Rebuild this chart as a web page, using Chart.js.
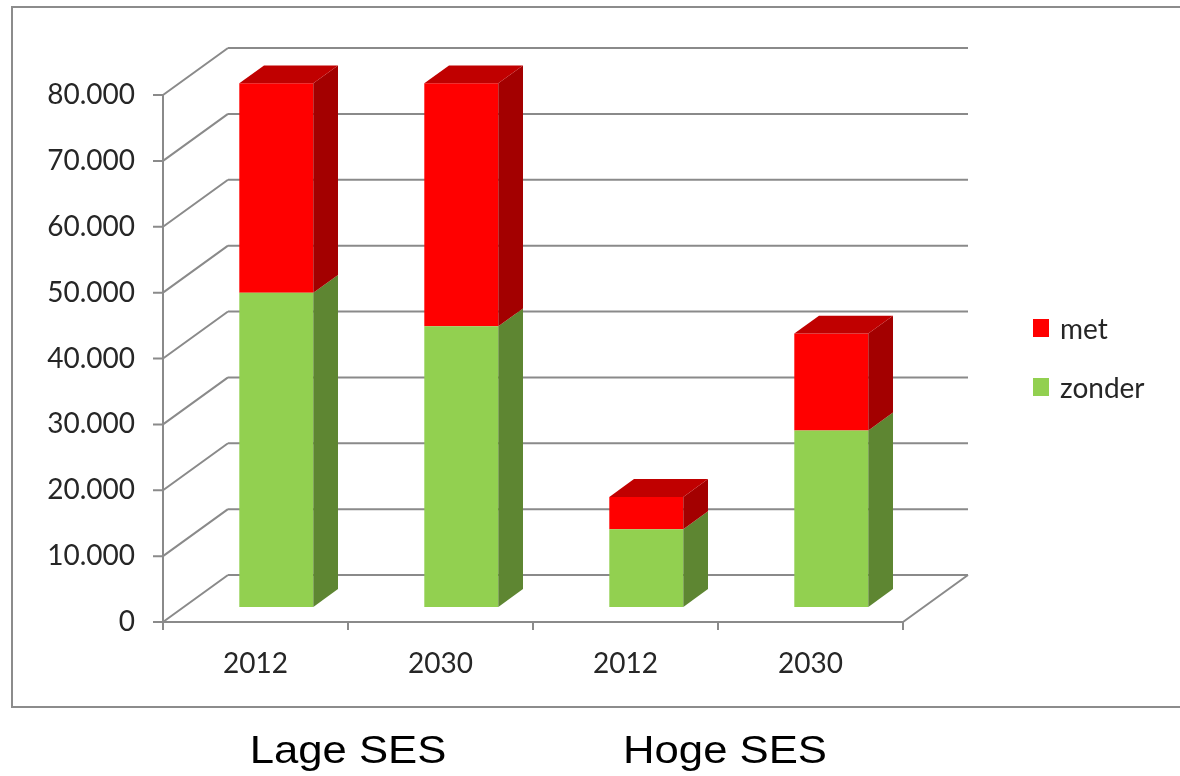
<!DOCTYPE html>
<html>
<head>
<meta charset="utf-8">
<script src="https://cdn.jsdelivr.net/npm/chart.js@4"></script>
<style>
  html, body { margin:0; padding:0; background:#fff; }
  body { width:1180px; height:776px; position:relative; overflow:hidden; }
  #frame { position:absolute; left:11px; top:6px; width:1200px; height:702px; border:2px solid #8c8c8c; box-sizing:border-box; }
  #c { position:absolute; left:0; top:0; }
  .grp { position:absolute; top:730px; font-family:"Liberation Sans", Arial, sans-serif; font-size:39px; line-height:39px; color:#000; white-space:nowrap; transform:translateX(-50%) scaleX(1.12); transform-origin:center; }
  #legend { position:absolute; left:1033px; top:312px; font-family:Lato, sans-serif; font-size:28px; color:#262626; }
  .li { position:absolute; left:0; white-space:nowrap; height:34px; }
  .sw { position:absolute; left:0; top:7px; width:16px; height:18px; }
  .lt { position:absolute; left:27px; top:0; line-height:32px; }
</style>
</head>
<body>
<div id="frame"></div>
<canvas id="c" width="1180" height="776"></canvas>
<div id="legend"></div>
<div id="groups"></div>
<script>
// ---- data ----
const categories = ['2012', '2030', '2012', '2030'];
const groupLabels = ['Lage SES', 'Hoge SES'];
const zonder = [47700, 42600, 11800, 26800];
const met = [31800, 36900, 4900, 14700];
const seriesNames = ['zonder', 'met'];
const yTicks = [0, 10000, 20000, 30000, 40000, 50000, 60000, 70000, 80000];

// ---- style ----
const GREEN = '#92D050', GREEN_SIDE = '#5E8632', GREEN_TOP = '#76A83C';
const RED = '#FF0000', RED_SIDE = '#A30000', RED_TOP = '#C00000';
const GRID = '#8a8a8a';
const DX = 65, DY = -47;      // full depth offset of the 3D box
const F1 = 0.32, F2 = 0.70;   // bar front/back depth fractions

function fmt(v) { return String(v).replace(/\B(?=(\d{3})+(?!\d))/g, '.'); }

const threeD = {
  id: 'threeD',
  beforeDatasetsDraw(chart) {
    const ctx = chart.ctx, y = chart.scales.y, x = chart.scales.x;
    const L = chart.chartArea.left, R = chart.chartArea.right;
    const top = y.getPixelForValue(yTicks[yTicks.length - 1]);
    const bot = y.getPixelForValue(0);
    ctx.save();
    ctx.strokeStyle = GRID; ctx.lineWidth = 2; ctx.lineCap = 'butt';
    ctx.beginPath();
    yTicks.forEach(v => {
      const py = y.getPixelForValue(v);
      // back wall line
      ctx.moveTo(L + DX, py + DY); ctx.lineTo(R + DX, py + DY);
      // side wall diagonal
      ctx.moveTo(L, py); ctx.lineTo(L + DX, py + DY);
      // tick mark
      ctx.moveTo(L - 10, py); ctx.lineTo(L, py);
    });
    // front axis line
    ctx.moveTo(L, top - 1); ctx.lineTo(L, bot + 8);
    // floor front edge and right edge
    ctx.moveTo(L, bot); ctx.lineTo(R, bot);
    ctx.moveTo(R, bot); ctx.lineTo(R + DX, bot + DY);
    // category ticks
    const n = categories.length;
    for (let i = 0; i <= n; i++) {
      const px = L + (R - L) * i / n;
      ctx.moveTo(px, bot); ctx.lineTo(px, bot + 8);
    }
    ctx.stroke();
    ctx.restore();
    // shift bars to their depth position
    ctx.save();
    ctx.translate(DX * F1, DY * F1);
  },
  afterDatasetsDraw(chart) {
    const ctx = chart.ctx;
    ctx.restore();
    const sx = DX * F1, sy = DY * F1;
    const dx = DX * (F2 - F1), dy = DY * (F2 - F1);
    const nDs = chart.data.datasets.length;
    chart.data.datasets.forEach((ds, di) => {
      const meta = chart.getDatasetMeta(di);
      meta.data.forEach(el => {
        const w = el.width;
        const x1 = el.x + w / 2 + sx;
        const x0 = el.x - w / 2 + sx;
        const yt = Math.min(el.y, el.base) + sy;
        const yb = Math.max(el.y, el.base) + sy;
        ctx.save();
        // side face
        ctx.fillStyle = ds.sideColor;
        ctx.beginPath();
        ctx.moveTo(x1, yb); ctx.lineTo(x1, yt); ctx.lineTo(x1 + dx, yt + dy); ctx.lineTo(x1 + dx, yb + dy);
        ctx.closePath(); ctx.fill();
        // top face (only topmost stack)
        if (di === nDs - 1) {
          ctx.fillStyle = ds.topColor;
          ctx.beginPath();
          ctx.moveTo(x0, yt); ctx.lineTo(x1, yt); ctx.lineTo(x1 + dx, yt + dy); ctx.lineTo(x0 + dx, yt + dy);
          ctx.closePath(); ctx.fill();
        }
        ctx.restore();
      });
    });
  }
};

const tickFont = { family: 'Lato', size: 28 };

new Chart(document.getElementById('c'), {
  type: 'bar',
  data: {
    labels: categories,
    datasets: [
      { label: seriesNames[0], data: zonder, backgroundColor: GREEN, sideColor: GREEN_SIDE, topColor: GREEN_TOP, borderWidth: 0 },
      { label: seriesNames[1], data: met, backgroundColor: RED, sideColor: RED_SIDE, topColor: RED_TOP, borderWidth: 0 }
    ]
  },
  options: {
    responsive: false,
    animation: false,
    events: [],
    layout: { padding: { top: 95, left: 11, right: 277, bottom: 0 } },
    datasets: { bar: { categoryPercentage: 1.0, barPercentage: 0.4 } },
    plugins: { legend: { display: false }, tooltip: { enabled: false } },
    scales: {
      x: {
        stacked: true,
        offset: true,
        grid: { display: false, drawTicks: false },
        border: { display: false },
        ticks: { font: tickFont, color: '#262626', padding: 25, maxRotation: 0 },
        afterFit(s) { s.height = 154; s.paddingLeft = 0; s.paddingRight = 0; }
      },
      y: {
        stacked: true,
        min: 0, max: 80000,
        grid: { display: false, drawTicks: false },
        border: { display: false },
        ticks: { stepSize: 10000, font: tickFont, color: '#262626', padding: 28, callback: v => fmt(v) },
        afterFit(s) { s.width = 152; s.paddingTop = 0; s.paddingBottom = 0; }
      }
    }
  },
  plugins: [threeD]
});

// legend (reverse order, like the original)
const leg = document.getElementById('legend');
const legColors = [GREEN, RED];
[1, 0].forEach((i, k) => {
  const d = document.createElement('div');
  d.className = 'li';
  d.style.top = (k * 59) + 'px';
  d.innerHTML = '<span class="sw" style="background:' + legColors[i] + '"></span><span class="lt">' + seriesNames[i] + '</span>';
  leg.appendChild(d);
});

// group labels under the category pairs
const grpCenters = [348, 725];
const gEl = document.getElementById('groups');
groupLabels.forEach((t, i) => {
  const d = document.createElement('div');
  d.className = 'grp';
  d.style.left = grpCenters[i] + 'px';
  d.textContent = t;
  gEl.appendChild(d);
});
</script>
</body>
</html>
